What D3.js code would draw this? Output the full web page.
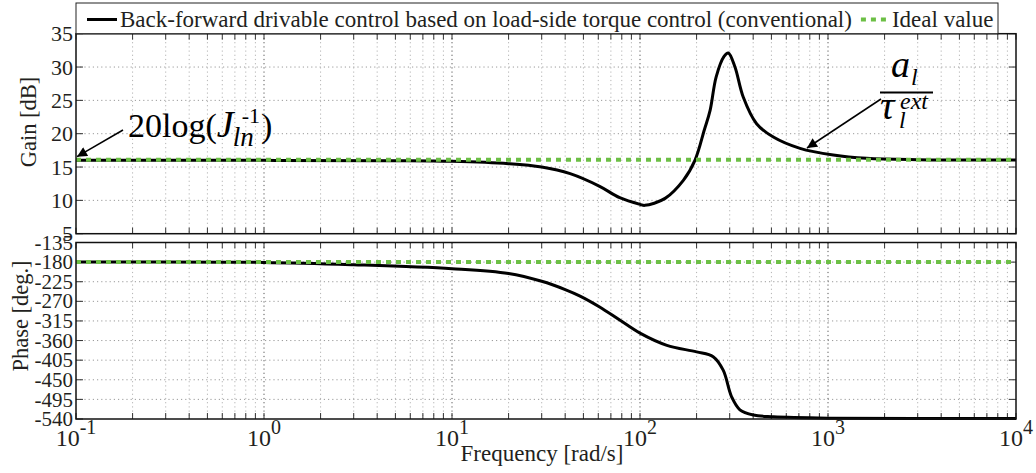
<!DOCTYPE html>
<html>
<head>
<meta charset="utf-8">
<script src="https://cdn.jsdelivr.net/npm/d3@7"></script>
<style>
  html, body { margin: 0; padding: 0; background: #fff; }
  svg { display: block; }
  svg text { font-family: "Liberation Serif", "Times New Roman", serif; }
</style>
</head>
<body>
<svg id="chart" width="1036" height="473"></svg>
<script>
// Frequency samples [rad/s] and measured responses
const gainFreq  = [0.1, 1, 5, 10, 20, 30, 42.5, 61, 78, 100, 106, 136, 170, 196, 220, 236, 254, 280, 295, 320, 354, 417, 512, 710, 1067, 1606, 3000, 10000];
const gainDb    = [16.0, 16.0, 15.95, 15.85, 15.5, 15.0, 14.0, 12.1, 10.4, 9.4, 9.25, 10.3, 13.0, 16.0, 20.6, 23.5, 28.5, 31.6, 32.1, 30.0, 25.5, 21.5, 19.5, 17.8, 16.8, 16.3, 16.1, 16.05];
const phaseFreq = [0.1, 1, 3, 10, 20, 30, 40, 48, 61, 78, 100, 139, 200, 245, 277, 307, 340, 401, 512, 1000, 10000];
const phaseDeg  = [-180, -180.8, -186, -195, -206, -224, -243, -258, -283, -313, -343, -371, -386, -397, -428, -489, -519, -531, -535, -538, -539];
const idealGain = 16.1;
const idealPhase = -180;

const gainTicks  = [5, 10, 15, 20, 25, 30, 35];
const phaseTicks = [-540, -495, -450, -405, -360, -315, -270, -225, -180, -135];
const decadeExps = [-1, 0, 1, 2, 3, 4];

const legendLabels = ["Back-forward drivable control based on load-side torque control (conventional)", "Ideal value"];
const green = "#6cbf45";
const ink = "#231f20";

const svg = d3.select("#chart");
const L = 76, R = 1016;
const x = d3.scaleLog().domain([0.1, 1e4]).range([L, R]);
const yG = d3.scaleLinear().domain([5, 35]).range([233.7, 33.7]);
const yP = d3.scaleLinear().domain([-540, -135]).range([419, 242.5]);

// minor / major frequency positions
const majors = decadeExps.map(e => Math.pow(10, e));
const minors = [];
for (let e = -1; e < 4; e++) for (let k = 2; k <= 9; k++) minors.push(k * Math.pow(10, e));

function panel(y, yTicks, top, bottom, labelSize) {
  const g = svg.append("g");
  // grid
  g.selectAll(".hg").data(yTicks.slice(1, -1)).join("line")
    .attr("x1", L).attr("x2", R).attr("y1", d => y(d)).attr("y2", d => y(d))
    .attr("stroke", "#9a9a9a").attr("stroke-width", 1).attr("stroke-dasharray", "1.2,3");
  g.selectAll(".vg").data(minors).join("line")
    .attr("x1", d => x(d)).attr("x2", d => x(d)).attr("y1", top).attr("y2", bottom)
    .attr("stroke", "#b4b4b4").attr("stroke-width", 1).attr("stroke-dasharray", "1.2,3");
  g.selectAll(".vm").data(majors.slice(1, -1)).join("line")
    .attr("x1", d => x(d)).attr("x2", d => x(d)).attr("y1", top).attr("y2", bottom)
    .attr("stroke", "#555").attr("stroke-width", 1).attr("stroke-dasharray", "1.2,3");
  // inward ticks on all sides
  const xt = majors.concat(minors);
  g.selectAll(".tt").data(xt).join("line")
    .attr("x1", d => x(d)).attr("x2", d => x(d)).attr("y1", top).attr("y2", top + 6)
    .attr("stroke", "#333").attr("stroke-width", 1);
  g.selectAll(".tb").data(xt).join("line")
    .attr("x1", d => x(d)).attr("x2", d => x(d)).attr("y1", bottom).attr("y2", bottom - 6)
    .attr("stroke", "#333").attr("stroke-width", 1);
  g.selectAll(".tl").data(yTicks).join("line")
    .attr("x1", L).attr("x2", L + 7).attr("y1", d => y(d)).attr("y2", d => y(d))
    .attr("stroke", "#333").attr("stroke-width", 1);
  g.selectAll(".tr").data(yTicks).join("line")
    .attr("x1", R).attr("x2", R - 7).attr("y1", d => y(d)).attr("y2", d => y(d))
    .attr("stroke", "#333").attr("stroke-width", 1);
  // y tick labels
  g.selectAll(".yl").data(yTicks).join("text")
    .attr("x", L - 3).attr("y", d => y(d)).attr("dy", "0.34em")
    .attr("text-anchor", "end").attr("font-size", labelSize).attr("fill", ink)
    .text(d => d);
  return g;
}

panel(yG, gainTicks, 33.7, 233.7, 22);
panel(yP, phaseTicks, 242.5, 419, 21);

// data lines
const lineG = d3.line().x(d => x(d[0])).y(d => yG(d[1])).curve(d3.curveCatmullRom.alpha(0.5));
const lineP = d3.line().x(d => x(d[0])).y(d => yP(d[1])).curve(d3.curveCatmullRom.alpha(0.5));

svg.append("path").datum(d3.zip(gainFreq, gainDb)).attr("d", lineG)
  .attr("fill", "none").attr("stroke", "#000").attr("stroke-width", 3).attr("stroke-linejoin", "round");
svg.append("path").datum(d3.zip(phaseFreq, phaseDeg)).attr("d", lineP)
  .attr("fill", "none").attr("stroke", "#000").attr("stroke-width", 3).attr("stroke-linejoin", "round");

// ideal values
svg.append("line").attr("x1", x(0.1)).attr("x2", x(1e4)).attr("y1", yG(idealGain)).attr("y2", yG(idealGain))
  .attr("stroke", green).attr("stroke-width", 4).attr("stroke-dasharray", "5,5");
svg.append("line").attr("x1", x(0.1)).attr("x2", x(1e4)).attr("y1", yP(idealPhase)).attr("y2", yP(idealPhase))
  .attr("stroke", green).attr("stroke-width", 4).attr("stroke-dasharray", "5,5");

// frames
svg.append("rect").attr("x", L).attr("y", 33.7).attr("width", R - L).attr("height", 200)
  .attr("fill", "none").attr("stroke", "#111").attr("stroke-width", 1.5);
svg.append("rect").attr("x", L).attr("y", 242.5).attr("width", R - L).attr("height", 419 - 242.5)
  .attr("fill", "none").attr("stroke", "#111").attr("stroke-width", 1.5);

// x tick labels (10^n)
const xl = svg.selectAll(".xl").data(decadeExps).join("text")
  .attr("y", 446).attr("font-size", 24).attr("fill", ink);
xl.append("tspan").text("10");
xl.append("tspan").attr("dy", -12).attr("font-size", 20).text(d => d);
xl.each(function(d) {
  const w = this.getComputedTextLength();
  d3.select(this).attr("x", x(Math.pow(10, d)) - w / 2);
});

// axis titles
svg.append("text").attr("x", 542).attr("y", 461).attr("text-anchor", "middle")
  .attr("font-size", 23).attr("fill", ink).text("Frequency [rad/s]");
svg.append("text").attr("transform", "translate(36,122) rotate(-90)").attr("text-anchor", "middle")
  .attr("font-size", 22.5).attr("fill", ink).text("Gain [dB]");
svg.append("text").attr("transform", "translate(28,316) rotate(-90)").attr("text-anchor", "middle")
  .attr("font-size", 22.5).attr("fill", ink).text("Phase [deg.]");

// legend
svg.append("rect").attr("x", L).attr("y", 3).attr("width", 998 - L).attr("height", 30.7)
  .attr("fill", "#fff").attr("stroke", "#222").attr("stroke-width", 1);
svg.append("line").attr("x1", 87).attr("x2", 117).attr("y1", 19.5).attr("y2", 19.5)
  .attr("stroke", "#000").attr("stroke-width", 3);
const lt1 = svg.append("text").attr("x", 120).attr("y", 26.5).attr("font-size", 23).attr("fill", ink)
  .text(legendLabels[0]);
const w1 = lt1.node().getComputedTextLength();
const gx = 120 + w1 + 9;
svg.append("line").attr("x1", gx).attr("x2", gx + 26).attr("y1", 19.5).attr("y2", 19.5)
  .attr("stroke", green).attr("stroke-width", 4).attr("stroke-dasharray", "5,5");
svg.append("text").attr("x", gx + 31).attr("y", 26.5).attr("font-size", 23).attr("fill", ink)
  .text(legendLabels[1]);

// arrow marker
svg.append("defs").append("marker").attr("id", "ah").attr("viewBox", "0 0 10 10")
  .attr("refX", 10).attr("refY", 5).attr("markerWidth", 14).attr("markerHeight", 10)
  .attr("markerUnits", "userSpaceOnUse").attr("orient", "auto")
  .append("path").attr("d", "M0,0 L10,5 L0,10 z").attr("fill", "#000");

// annotation: 20log(J_ln^-1)
svg.append("line").attr("x1", 123).attr("y1", 130).attr("x2", x(0.1) + 1).attr("y2", yG(idealGain) - 3)
  .attr("stroke", "#000").attr("stroke-width", 1.5).attr("marker-end", "url(#ah)");
const a1 = svg.append("text").attr("x", 128).attr("y", 137).attr("font-size", 34).attr("fill", "#000").text("20log(");
let ax = 128 + a1.node().getComputedTextLength();
const aJ = svg.append("text").attr("x", ax).attr("y", 137).attr("font-size", 38).attr("font-style", "italic").attr("fill", "#000").text("J");
ax += aJ.node().getComputedTextLength() + 1;
const aSub = svg.append("text").attr("x", ax - 2).attr("y", 146).attr("font-size", 27).attr("font-style", "italic").attr("fill", "#000").text("ln");
const aSup = svg.append("text").attr("x", ax + 7).attr("y", 123).attr("font-size", 22).attr("fill", "#000").text("-1");
ax = Math.max(ax - 2 + aSub.node().getComputedTextLength(), ax + 7 + aSup.node().getComputedTextLength()) + 1;
svg.append("text").attr("x", ax).attr("y", 137).attr("font-size", 34).attr("fill", "#000").text(")");

// annotation: a_l / tau_l^ext
svg.append("line").attr("x1", 881).attr("y1", 99).attr("x2", 807).attr("y2", 148)
  .attr("stroke", "#000").attr("stroke-width", 1.5).attr("marker-end", "url(#ah)");
svg.append("line").attr("x1", 880).attr("x2", 933).attr("y1", 92.5).attr("y2", 92.5)
  .attr("stroke", "#000").attr("stroke-width", 1.8);
svg.append("text").attr("x", 891).attr("y", 77).attr("font-size", 38).attr("font-style", "italic").attr("fill", "#000").text("a");
svg.append("text").attr("x", 911).attr("y", 85).attr("font-size", 24).attr("font-style", "italic").attr("fill", "#000").text("l");
svg.append("text").attr("x", 880).attr("y", 119).attr("font-size", 40).attr("font-style", "italic").attr("fill", "#000").text("τ");
svg.append("text").attr("x", 899).attr("y", 128).attr("font-size", 24).attr("font-style", "italic").attr("fill", "#000").text("l");
svg.append("text").attr("x", 900).attr("y", 109).attr("font-size", 24).attr("font-style", "italic").attr("fill", "#000").text("ext");
</script>
</body>
</html>
